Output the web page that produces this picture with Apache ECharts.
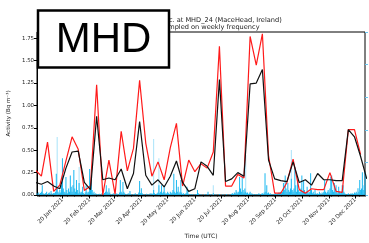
<!DOCTYPE html>
<html>
<head>
<meta charset="utf-8">
<script src="https://cdn.jsdelivr.net/npm/echarts@6/dist/echarts.min.js"></script>
<style>html,body{margin:0;padding:0;background:#fff}#c{width:369px;height:243px}</style>
</head>
<body>
<div id="c"></div>
<script>
// ---- data ----
var titleLines = ['Activity conc. at MHD_24 (MaceHead, Ireland)', 'Resampled on weekly frequency'];
var yTicks = [0, 0.25, 0.5, 0.75, 1.0, 1.25, 1.5, 1.75];
var xTickDates = ['2021-01-20','2021-02-20','2021-03-20','2021-04-20','2021-05-20','2021-06-20','2021-07-20','2021-08-20','2021-09-20','2021-10-20','2021-11-20','2021-12-20'];
var axisStart = '2020-12-22', axisEnd = '2021-12-31';
var weekStart = '2020-12-20'; // weekly (Sunday) points
var redWeekly = [0.28,0.21,0.59,0.04,0.11,0.38,0.65,0.51,0.05,0.10,1.23,0.00,0.39,0.01,0.71,0.27,0.52,1.28,0.58,0.21,0.37,0.17,0.53,0.80,0.10,0.39,0.26,0.35,0.30,0.48,1.66,0.10,0.10,0.23,0.19,1.77,1.45,1.80,0.44,0.02,0.02,0.14,0.40,0.06,0.02,0.07,0.06,0.06,0.25,0.04,0.03,0.73,0.73,0.45,null];
var blackWeekly = [0.14,0.12,0.15,0.10,0.07,0.30,0.48,0.49,0.14,0.06,0.88,0.17,0.19,0.17,0.29,0.07,0.24,0.82,0.22,0.11,0.17,0.09,0.21,0.38,0.14,0.04,0.07,0.37,0.32,0.22,1.29,0.15,0.18,0.25,0.21,1.24,1.25,1.40,0.39,0.18,0.16,0.15,0.37,0.14,0.17,0.11,0.24,0.17,0.17,0.16,0.16,0.73,0.65,0.43,0.18];
// daily values (secondary axis), starting at axisStart
var blueDaily = [
0.05,0,0.08,0,0.06,0.1,0.3,0.05,0,0.04,
0.06,0.1,0,0.05,0.08,0,0.12,0.05,0,0.06,
0.05,0.1,0.65,0.2,0.1,0.05,0.15,0.08,0.3,1.13,
0.2,0.1,0.08,0.55,0.15,0.05,0.2,0.1,0.6,0.25,
0.1,0.3,0.77,0.2,0.1,0.46,0.15,0.05,0.37,0.1,
0.05,0.1,0.25,0.05,0,0.08,0.3,0.1,0.05,0.1,
0.8,0.2,0.6,0.15,0.05,0.1,0,0.05,0,0.03,
0,0.04,0,0,0.05,0,0.03,0.06,0.1,0.3,
0.1,0.05,0.21,0.08,0,0.03,0,0.05,0,0.04,
0,0.05,0.03,0,0.08,0.46,0.1,0.05,0.4,0.1,
0.05,0,0.03,0,0.05,0,0.12,0.03,0,0,
0.03,0,0.05,0,0.02,0,0.08,0.43,0.05,0.21,
0.05,0,0.03,0,0,0.04,0,0.02,0,0.05,
0,0.05,0.03,0.15,0.05,0,0.03,0.05,0.08,0.3,
0.05,0.1,0.3,0.05,0.1,0.3,0.08,0.03,0.05,0.1,
0.05,0.03,0.1,0.05,0.08,0.15,0.65,0.1,0.05,0.46,
0.1,0.25,0.05,0.1,0.46,0.08,0.03,0.05,0,0.04,
0.05,0.25,0.15,0.03,0,0.02,0,0.03,0,0,
0.02,0,0.03,0.15,0.05,0,0,0.02,0,0,
0,0.02,0,0,0.03,0.1,0,0,0.02,0,
0,0.05,0,0,0.02,0,0,0,0.03,0,
0,0,0.02,0,0,0,0.03,0,0,0,
0.02,0,0.04,0.05,0.03,0.08,0.05,0.15,0.1,0.05,
0.1,0.55,0.2,0.1,0.6,0.15,0.08,0.2,0.1,0.05,
0.08,0.03,0.05,0.1,0.02,0.05,0,0.03,0,0.02,
0,0.03,0,0.05,0.02,0,0.04,0.05,0.03,0.08,
0.67,0.1,0.3,0.05,0.08,0.03,0.05,0.02,0,0.03,
0,0.02,0.05,0.03,0,0.05,0.08,0.05,0.1,0.05,
0.1,0.37,0.15,0.6,0.2,0.1,0.37,0.15,0.1,0.2,
0.5,0.15,0.1,0.2,0.86,0.3,0.1,0.46,0.15,0.1,
0.1,0.2,0.6,0.1,0.46,0.15,0.05,0.1,0.25,0.1,
0.05,0.1,0.67,0.15,0.05,0.1,0.03,0.15,0.05,0.02,
0.05,0.03,0.1,0.05,0,0.08,0.05,0.1,0.46,0.1,
0.05,0.1,0.15,0.08,0.2,0.55,0.6,0.15,0.1,0.37,
0.1,0.3,0.1,0.05,0.25,0.1,0.05,0.1,0.3,0.3,
0.1,0.05,0.02,0,0.03,0.05,0,0.02,0.05,0.03,
0.05,0.03,0.08,0.05,0.1,0.05,0.21,0.1,0.46,0.15,
0.2,0.7,0.15,0.3,0.7];
// lighter tall spikes (day index from axisStart, value)
var faintDays = [23, 48, 133, 139, 201, 238, 290];
var faintValues = [1.78, 0.86, 1.72, 1.13, 0.3, 1.23, 1.38];

// ---- build ----
var DAY = 86400000;
function ts(s){ var p = s.split('-'); return Date.UTC(+p[0], +p[1]-1, +p[2]); }
var t0 = ts(axisStart), t1 = ts(axisEnd), w0 = ts(weekStart);
var months = ['Jan','Feb','Mar','Apr','May','Jun','Jul','Aug','Sep','Oct','Nov','Dec'];
function fmt(v){ var d = new Date(v); return d.getUTCDate()+' '+months[d.getUTCMonth()]+' '+d.getUTCFullYear(); }
var xTicks = xTickDates.map(ts);
var dailyTicks = []; for (var t = t0; t <= t1; t += DAY) dailyTicks.push(t);
var redData = redWeekly.map(function(v,i){ return [w0 + i*7*DAY, v]; });
var blackData = blackWeekly.map(function(v,i){ return [w0 + i*7*DAY, v]; });
var blueData = blueDaily.map(function(v,i){ return [t0 + i*DAY, v]; });
var faintData = faintDays.map(function(d,i){ return [t0 + d*DAY, faintValues[i]]; });

var FONT = 'DejaVu Sans';
var chart = echarts.init(document.getElementById('c'), null, {renderer:'canvas'});
chart.setOption({
  animation: false,
  backgroundColor: '#fff',
  grid: {left: 37, right: 4, top: 32, bottom: 48, show: true, borderColor: '#000', borderWidth: 1, outerBoundsMode: 'none'},
  xAxis: [{
    type: 'value', min: t0, max: t1, scale: true,
    name: 'Time (UTC)', nameLocation: 'middle', nameGap: 38,
    nameTextStyle: {fontFamily: FONT, fontSize: 6, color: '#222'},
    axisLine: {show: true, onZero: false, lineStyle: {color: '#000', width: 1}},
    axisTick: {show: true, customValues: xTicks, length: 3.5, lineStyle: {color: '#000', width: 1}},
    axisLabel: {customValues: xTicks, formatter: fmt, rotate: 45, fontFamily: FONT, fontSize: 5.6, color: '#222', margin: 4},
    splitLine: {show: false}
  }, {
    type: 'value', min: t0, max: t1, scale: true, position: 'bottom',
    axisLine: {show: false, onZero: false},
    axisTick: {show: true, customValues: dailyTicks, length: 2, lineStyle: {color: '#000', width: 0.5}},
    axisLabel: {show: false},
    splitLine: {show: false}
  }],
  yAxis: [{
    type: 'value', min: 0, max: 1.82,
    name: 'Activity (Bq m\u207B\u00B3)', nameLocation: 'middle', nameGap: 23, nameRotate: 90,
    nameTextStyle: {fontFamily: FONT, fontSize: 5.5, color: '#222'},
    axisLine: {show: true, lineStyle: {color: '#000'}},
    axisTick: {show: true, customValues: yTicks, length: 3, lineStyle: {color: '#000'}},
    axisLabel: {customValues: yTicks, formatter: function(v){ return v.toFixed(2); }, fontFamily: FONT, fontSize: 5.4, color: '#222', margin: 3},
    splitLine: {show: false}
  }, {
    type: 'value', min: 0, max: 5, interval: 1, position: 'right',
    axisLine: {show: false},
    axisTick: {show: true, length: 3, lineStyle: {color: '#6ec6f0'}},
    axisLabel: {show: false},
    splitLine: {show: false}
  }],
  series: [
    {type: 'bar', name: 'faint', xAxisIndex: 0, yAxisIndex: 1, data: faintData, barWidth: 1, barGap: '-100%',
     itemStyle: {color: '#a9e3fa'}, silent: true},
    {type: 'bar', name: 'daily', xAxisIndex: 0, yAxisIndex: 1, data: blueData, barWidth: 1, barGap: '-100%',
     itemStyle: {color: '#1ab8f0'}, silent: true},
    {type: 'line', name: 'red', xAxisIndex: 0, yAxisIndex: 0, data: redData, showSymbol: false, clip: true,
     lineStyle: {color: '#ff1a1a', width: 1.2}, connectNulls: false, silent: true},
    {type: 'line', name: 'black', xAxisIndex: 0, yAxisIndex: 0, data: blackData, showSymbol: false, clip: true,
     lineStyle: {color: '#111', width: 1.2}, silent: true}
  ],
  graphic: [
    {type: 'text', x: 206, y: 17, z: 50,
     style: {text: titleLines.join('\n'), textAlign: 'center', textVerticalAlign: 'top', fontFamily: FONT, fontSize: 6.6, lineHeight: 7, fill: '#222'}},
    {type: 'rect', z: 100, shape: {x: 38, y: 10.5, width: 131, height: 57},
     style: {fill: '#fff', stroke: '#000', lineWidth: 2.5}},
    {type: 'text', x: 103.5, y: 40, z: 101,
     style: {text: 'MHD', textAlign: 'center', textVerticalAlign: 'middle', fontFamily: 'Liberation Sans', fontSize: 42, fill: '#000'}}
  ]
});
</script>
</body>
</html>
